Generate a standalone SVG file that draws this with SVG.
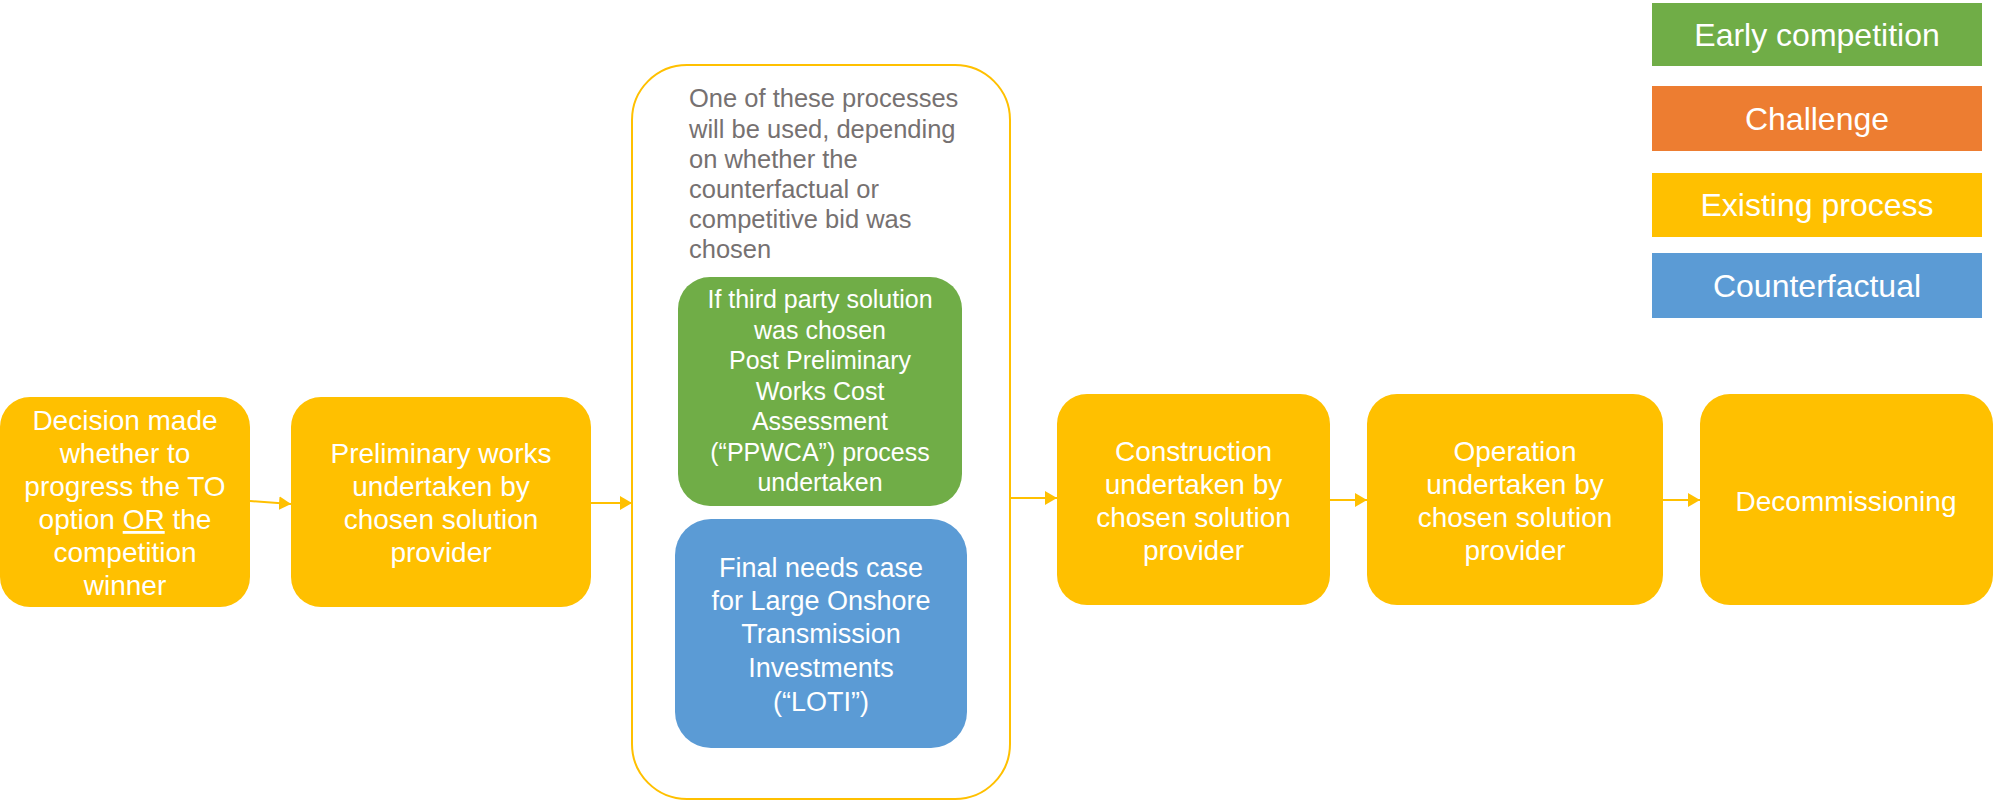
<svg xmlns="http://www.w3.org/2000/svg" width="1994" height="803" viewBox="0 0 1994 803">
<defs>
<style>
text{font-family:"Liberation Sans",Arial,sans-serif;}
.y{fill:#FFC000;}
.g{fill:#70AD47;}
.o{fill:#ED7D31;}
.b{fill:#5B9BD5;}
.t{fill:#FFFFFF;font-size:28px;text-anchor:middle;}
.ts{fill:#FFFFFF;font-size:25px;text-anchor:middle;}
.tb{fill:#FFFFFF;font-size:27px;text-anchor:middle;}
.lg{fill:#FFFFFF;font-size:32px;text-anchor:middle;}
.gray{fill:#767171;font-size:25.5px;}
.conn{stroke:#FFC000;stroke-width:2;fill:none;marker-end:url(#arr);}
</style>
<marker id="arr" markerUnits="userSpaceOnUse" markerWidth="12" markerHeight="14" viewBox="0 0 12 14" refX="12" refY="7" orient="auto">
<path d="M0,0 L12,7 L0,14 z" fill="#FFC000"/>
</marker>
</defs>
<rect width="1994" height="803" fill="#FFFFFF"/>

<g id="legend">
<g id="legend-early"><rect class="g" x="1652" y="3" width="330" height="63"/><text class="lg" x="1817" y="46">Early competition</text></g>
<g id="legend-challenge"><rect class="o" x="1652" y="86" width="330" height="65"/><text class="lg" x="1817" y="130">Challenge</text></g>
<g id="legend-existing"><rect class="y" x="1652" y="173" width="330" height="64"/><text class="lg" x="1817" y="216">Existing process</text></g>
<g id="legend-counterfactual"><rect class="b" x="1652" y="253" width="330" height="65"/><text class="lg" x="1817" y="297">Counterfactual</text></g>
</g>

<g id="connectors">
<line class="conn" x1="250" y1="501" x2="291" y2="504"/>
<line class="conn" x1="591" y1="503" x2="632" y2="503"/>
<line class="conn" x1="1010" y1="498" x2="1057" y2="498"/>
<line class="conn" x1="1330" y1="500" x2="1367" y2="500"/>
<line class="conn" x1="1663" y1="500" x2="1700" y2="500"/>
</g>

<g id="node-decision">
<rect class="y" x="0" y="397" width="250" height="210" rx="30"/>
<text class="t"><tspan x="125" y="430">Decision made</tspan><tspan x="125" y="463">whether to</tspan><tspan x="125" y="496">progress the TO</tspan><tspan x="125" y="529">option <tspan text-decoration="underline">OR</tspan> the</tspan><tspan x="125" y="562">competition</tspan><tspan x="125" y="595">winner</tspan></text>
</g>

<g id="node-preliminary">
<rect class="y" x="291" y="397" width="300" height="210" rx="30"/>
<text class="t"><tspan x="441" y="463">Preliminary works</tspan><tspan x="441" y="496">undertaken by</tspan><tspan x="441" y="529">chosen solution</tspan><tspan x="441" y="562">provider</tspan></text>
</g>

<g id="node-container">
<rect x="632" y="65" width="378" height="734" rx="55" fill="#FFFFFF" stroke="#FFC000" stroke-width="2"/>
<text class="gray"><tspan x="689" y="107">One of these processes</tspan><tspan x="689" y="138">will be used, depending</tspan><tspan x="689" y="168">on whether the</tspan><tspan x="689" y="198">counterfactual or</tspan><tspan x="689" y="228">competitive bid was</tspan><tspan x="689" y="258">chosen</tspan></text>
</g>

<g id="node-ppwca">
<rect class="g" x="678" y="277" width="284" height="229" rx="32"/>
<text class="ts"><tspan x="820" y="308">If third party solution</tspan><tspan x="820" y="338.5">was chosen</tspan><tspan x="820" y="369">Post Preliminary</tspan><tspan x="820" y="399.5">Works Cost</tspan><tspan x="820" y="430">Assessment</tspan><tspan x="820" y="460.5">(“PPWCA”) process</tspan><tspan x="820" y="491">undertaken</tspan></text>
</g>

<g id="node-loti">
<rect class="b" x="675" y="519" width="292" height="229" rx="36"/>
<text class="tb"><tspan x="821" y="577">Final needs case</tspan><tspan x="821" y="610">for Large Onshore</tspan><tspan x="821" y="643">Transmission</tspan><tspan x="821" y="677">Investments</tspan><tspan x="821" y="711">(“LOTI”)</tspan></text>
</g>

<g id="node-construction">
<rect class="y" x="1057" y="394" width="273" height="211" rx="30"/>
<text class="t"><tspan x="1193.5" y="461">Construction</tspan><tspan x="1193.5" y="494">undertaken by</tspan><tspan x="1193.5" y="527">chosen solution</tspan><tspan x="1193.5" y="560">provider</tspan></text>
</g>

<g id="node-operation">
<rect class="y" x="1367" y="394" width="296" height="211" rx="30"/>
<text class="t"><tspan x="1515" y="461">Operation</tspan><tspan x="1515" y="494">undertaken by</tspan><tspan x="1515" y="527">chosen solution</tspan><tspan x="1515" y="560">provider</tspan></text>
</g>

<g id="node-decommissioning">
<rect class="y" x="1700" y="394" width="293" height="211" rx="30"/>
<text class="t" x="1846" y="511">Decommissioning</text>
</g>
</svg>
